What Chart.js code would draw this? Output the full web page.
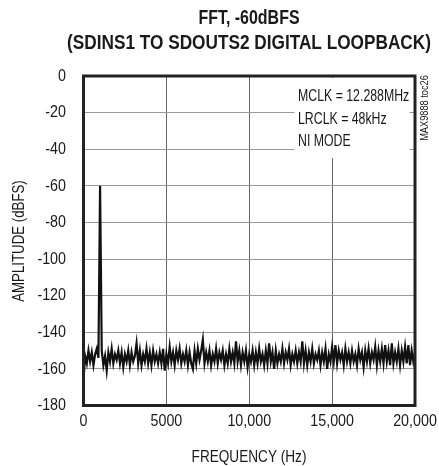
<!DOCTYPE html>
<html>
<head>
<meta charset="utf-8">
<script src="https://cdn.jsdelivr.net/npm/chart.js@4.4.1/dist/chart.umd.min.js"></script>
<style>
  html, body { margin: 0; padding: 0; background: #fff; }
  #wrap { width: 439px; height: 466px; }
</style>
</head>
<body>
<div id="wrap"><canvas id="fft"></canvas></div>
<script>
// FFT bins, 100 Hz apart, 0 .. 20 kHz
const binHz = 100;
const amplitudeDb = [
  -166,
  -153, -157, -150, -156, -151, -158, -152, -149, -154, -60,
  -150, -158, -153, -161, -151, -156, -149, -157, -152, -155,
  -150, -157, -151, -159, -152, -156, -150, -158, -151, -156,
  -153, -146, -157, -150, -158, -152, -156, -149, -157, -151,
  -158, -150, -156, -152, -157, -151, -157, -149, -161, -152,
  -157, -148, -156, -151, -158, -150, -155, -149, -157, -152,
  -156, -150, -158, -151, -157, -160, -150, -157, -149, -155,
  -150, -144, -157, -151, -156, -150, -158, -152, -156, -149,
  -157, -151, -155, -150, -158, -152, -157, -149, -156, -151,
  -157, -145, -156, -150, -158, -151, -156, -150, -159, -152,
  -156, -150, -158, -151, -157, -149, -156, -152, -158, -150,
  -157, -146, -156, -151, -160, -150, -157, -152, -156, -149,
  -157, -151, -155, -149, -158, -152, -156, -150, -157, -151,
  -156, -145, -157, -150, -158, -151, -156, -149, -157, -152,
  -155, -150, -158, -151, -156, -149, -160, -152, -156, -148,
  -156, -147, -157, -150, -155, -151, -158, -149, -156, -151,
  -157, -150, -156, -152, -158, -149, -155, -151, -159, -150,
  -156, -149, -157, -151, -155, -148, -158, -150, -156, -149,
  -157, -147, -156, -150, -158, -146, -157, -151, -156, -149,
  -158, -150, -156, -148, -157, -147, -158, -150, -156, -151
];
const xTicks = [0, 5000, 10000, 15000, 20000];
const xTickText = ['0', '5000', '10,000', '15,000', '20,000'];
const yTicks = [0, -20, -40, -60, -80, -100, -120, -140, -160, -180];
const titleLines = ['FFT, -60dBFS', '(SDINS1 TO SDOUTS2 DIGITAL LOOPBACK)'];
const noteLines = ['MCLK = 12.288MHz', 'LRCLK = 48kHz', 'NI MODE'];

const FONT = '"Liberation Sans", Arial, sans-serif';
const INK = '#1a1a1a';

const points = amplitudeDb.map((db, i) => ({ x: i * binHz, y: db }));

// narrow text: Liberation Sans squeezed sideways (no Arial Narrow here)
function say(ctx, text, x, y, size, opts = {}) {
  const squeeze = opts.squeeze || 0.84;
  ctx.save();
  ctx.font = (opts.bold ? 'bold ' : '') + size + 'px ' + FONT;
  ctx.fillStyle = INK;
  ctx.textBaseline = 'middle';
  ctx.textAlign = opts.align || 'center';
  ctx.translate(x, y);
  if (opts.rotate) ctx.rotate(opts.rotate);
  ctx.scale(squeeze, 1);
  ctx.fillText(text, 0, 0);
  ctx.restore();
}

const decor = {
  id: 'decor',
  beforeDatasetsDraw(chart) {
    const { ctx, chartArea: a } = chart;
    ctx.save();
    ctx.fillStyle = '#fff';
    ctx.fillRect(a.left + 211, a.top + 2, 115, 80);
    ctx.restore();
  },
  afterDraw(chart) {
    const { ctx, chartArea: a, scales } = chart;
    ctx.save();
    ctx.strokeStyle = '#222';
    ctx.lineWidth = 3;
    ctx.strokeRect(a.left, a.top, a.right - a.left, a.bottom - a.top);
    ctx.restore();

    // tick labels at the scale positions
    yTicks.forEach(v => say(ctx, String(v), 66, scales.y.getPixelForValue(v), 17, { align: 'right' }));
    xTicks.forEach((v, i) => say(ctx, xTickText[i], scales.x.getPixelForValue(v), 421, 17));

    say(ctx, titleLines[0], 249, 18, 21, { bold: true, squeeze: 0.76 });
    say(ctx, titleLines[1], 249, 43, 21, { bold: true, squeeze: 0.82 });

    say(ctx, 'FREQUENCY (Hz)', 249, 457, 17, { squeeze: 0.8 });
    say(ctx, 'AMPLITUDE (dBFS)', 19, 241, 17, { squeeze: 0.78, rotate: -Math.PI / 2 });

    noteLines.forEach((t, i) => say(ctx, t, 298, 97 + i * 22.5, 16, { align: 'left', squeeze: 0.77 }));

    say(ctx, 'MAX9888 toc26', 425, 108, 11, { rotate: -Math.PI / 2 });
  }
};

new Chart(document.getElementById('fft'), {
  type: 'line',
  data: {
    datasets: [{
      data: points,
      borderColor: '#111',
      borderWidth: 2.2,
      pointRadius: 0,
      tension: 0,
      fill: false
    }]
  },
  options: {
    responsive: true,
    maintainAspectRatio: false,
    animation: false,
    events: [],
    layout: { padding: { top: 76, right: 24, left: 0, bottom: 0 } },
    plugins: { legend: { display: false }, tooltip: { enabled: false } },
    scales: {
      x: {
        type: 'linear',
        min: 0,
        max: 20000,
        afterFit: s => { s.height = 60.5; s.paddingLeft = 0; s.paddingRight = 0; },
        afterBuildTicks: s => { s.ticks = xTicks.map(v => ({ value: v })); },
        border: { display: false },
        grid: { color: '#666', lineWidth: 1, drawTicks: false },
        ticks: { display: false }
      },
      y: {
        min: -180,
        max: 0,
        afterFit: s => { s.width = 83.5; s.paddingTop = 0; s.paddingBottom = 0; },
        afterBuildTicks: s => { s.ticks = yTicks.map(v => ({ value: v })); },
        border: { display: false },
        grid: { color: '#999', lineWidth: 1, drawTicks: false },
        ticks: { display: false }
      }
    }
  },
  plugins: [decor]
});
</script>
</body>
</html>
